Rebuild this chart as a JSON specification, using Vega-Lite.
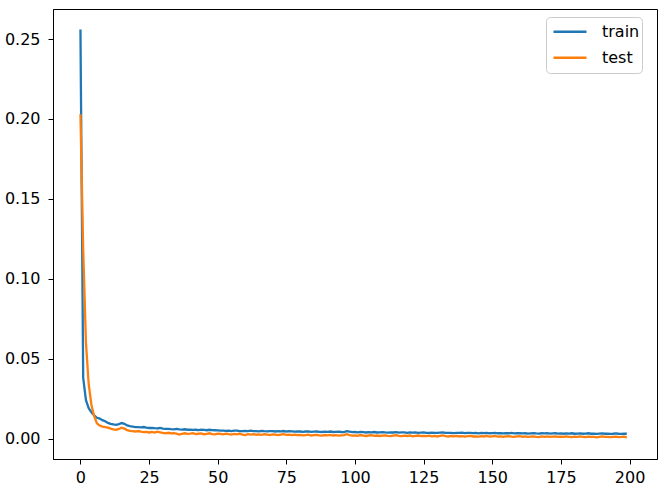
{
  "$schema": "https://vega.github.io/schema/vega-lite/v6.json",
  "width": 604,
  "height": 450,
  "autosize": {"type": "none"},
  "padding": {"left": 53, "top": 9, "right": 7, "bottom": 35},
  "background": "white",
  "config": {
    "font": "DejaVu Sans",
    "view": {"stroke": "black", "strokeWidth": 1},
    "axis": {
      "grid": false,
      "domainColor": "black",
      "tickColor": "black",
      "labelColor": "black",
      "labelFontSize": 16,
      "tickSize": 5,
      "labelPadding": 5,
      "title": null
    },
    "axisY": {"labelPadding": 8},
    "legend": {
      "orient": "none",
      "legendX": 493,
      "legendY": 8,
      "strokeColor": "#cccccc",
      "fillColor": "white",
      "cornerRadius": 4,
      "padding": 2,
      "labelFontSize": 16,
      "labelColor": "black",
      "labelOffset": 14,
      "symbolOffset": 4,
      "symbolType": "stroke",
      "symbolStrokeWidth": 2.4,
      "symbolSize": 1089,
      "clipHeight": 25.5,
      "rowPadding": 0,
      "labelExpr": "datum.label + '  '",
      "title": null
    }
  },
  "data": {
    "values": [
      {"e":0,"train":0.256,"test":0.203},
      {"e":1,"train":0.038,"test":0.118},
      {"e":2,"train":0.024,"test":0.06},
      {"e":3,"train":0.019,"test":0.034},
      {"e":4,"train":0.0165,"test":0.021},
      {"e":5,"train":0.0145,"test":0.014},
      {"e":6,"train":0.013,"test":0.0095},
      {"e":7,"train":0.0125,"test":0.0082},
      {"e":8,"train":0.0115,"test":0.0075},
      {"e":9,"train":0.0108,"test":0.0072},
      {"e":10,"train":0.0098,"test":0.0068},
      {"e":11,"train":0.0092,"test":0.0062},
      {"e":12,"train":0.0088,"test":0.0058},
      {"e":13,"train":0.0086,"test":0.0055},
      {"e":14,"train":0.0090,"test":0.0060},
      {"e":15,"train":0.0097,"test":0.0068},
      {"e":16,"train":0.0092,"test":0.0062},
      {"e":17,"train":0.0082,"test":0.0052},
      {"e":18,"train":0.0078,"test":0.0048},
      {"e":19,"train":0.0075,"test":0.0046},
      {"e":20,"train":0.0072,"test":0.0044},
      {"e":21,"train":0.0071,"test":0.0047},
      {"e":22,"train":0.0070,"test":0.0043},
      {"e":23,"train":0.0072,"test":0.0040},
      {"e":24,"train":0.0068,"test":0.0042},
      {"e":25,"train":0.0066,"test":0.0038},
      {"e":26,"train":0.0067,"test":0.0041},
      {"e":27,"train":0.0065,"test":0.0037},
      {"e":28,"train":0.0064,"test":0.0043},
      {"e":29,"train":0.0066,"test":0.0039},
      {"e":30,"train":0.0062,"test":0.0035},
      {"e":31,"train":0.0060,"test":0.0033},
      {"e":32,"train":0.0061,"test":0.0036},
      {"e":33,"train":0.0059,"test":0.0032},
      {"e":34,"train":0.0058,"test":0.0034},
      {"e":35,"train":0.0060,"test":0.0031},
      {"e":36,"train":0.0057,"test":0.0025},
      {"e":37,"train":0.0056,"test":0.0030},
      {"e":38,"train":0.0058,"test":0.0033},
      {"e":39,"train":0.0055,"test":0.0029},
      {"e":40,"train":0.0056,"test":0.0031},
      {"e":41,"train":0.0054,"test":0.0034},
      {"e":42,"train":0.0055,"test":0.0028},
      {"e":43,"train":0.0053,"test":0.0030},
      {"e":44,"train":0.0056,"test":0.0032},
      {"e":45,"train":0.0054,"test":0.0027},
      {"e":46,"train":0.0052,"test":0.0029},
      {"e":47,"train":0.0055,"test":0.0033},
      {"e":48,"train":0.0053,"test":0.0028},
      {"e":49,"train":0.0052,"test":0.0026},
      {"e":50,"train":0.0051,"test":0.0031},
      {"e":51,"train":0.0049,"test":0.0029},
      {"e":52,"train":0.0050,"test":0.0026},
      {"e":53,"train":0.0048,"test":0.0030},
      {"e":54,"train":0.0050,"test":0.0027},
      {"e":55,"train":0.0047,"test":0.0025},
      {"e":56,"train":0.0049,"test":0.0029},
      {"e":57,"train":0.0050,"test":0.0026},
      {"e":58,"train":0.0047,"test":0.0030},
      {"e":59,"train":0.0046,"test":0.0024},
      {"e":60,"train":0.0048,"test":0.0022},
      {"e":61,"train":0.0047,"test":0.0027},
      {"e":62,"train":0.0049,"test":0.0025},
      {"e":63,"train":0.0046,"test":0.0028},
      {"e":64,"train":0.0047,"test":0.0024},
      {"e":65,"train":0.0045,"test":0.0026},
      {"e":66,"train":0.0048,"test":0.0023},
      {"e":67,"train":0.0046,"test":0.0027},
      {"e":68,"train":0.0045,"test":0.0025},
      {"e":69,"train":0.0047,"test":0.0022},
      {"e":70,"train":0.0046,"test":0.0026},
      {"e":71,"train":0.0044,"test":0.0024},
      {"e":72,"train":0.0046,"test":0.0021},
      {"e":73,"train":0.0045,"test":0.0025},
      {"e":74,"train":0.0047,"test":0.0027},
      {"e":75,"train":0.0044,"test":0.0023},
      {"e":76,"train":0.0046,"test":0.0025},
      {"e":77,"train":0.0045,"test":0.0022},
      {"e":78,"train":0.0043,"test":0.0024},
      {"e":79,"train":0.0045,"test":0.0021},
      {"e":80,"train":0.0044,"test":0.0023},
      {"e":81,"train":0.0042,"test":0.0020},
      {"e":82,"train":0.0044,"test":0.0022},
      {"e":83,"train":0.0045,"test":0.0024},
      {"e":84,"train":0.0042,"test":0.0019},
      {"e":85,"train":0.0043,"test":0.0021},
      {"e":86,"train":0.0044,"test":0.0023},
      {"e":87,"train":0.0042,"test":0.0020},
      {"e":88,"train":0.0041,"test":0.0018},
      {"e":89,"train":0.0043,"test":0.0022},
      {"e":90,"train":0.0042,"test":0.0020},
      {"e":91,"train":0.0044,"test":0.0023},
      {"e":92,"train":0.0041,"test":0.0019},
      {"e":93,"train":0.0042,"test":0.0021},
      {"e":94,"train":0.0043,"test":0.0018},
      {"e":95,"train":0.0041,"test":0.0020},
      {"e":96,"train":0.0040,"test":0.0022},
      {"e":97,"train":0.0046,"test":0.0027},
      {"e":98,"train":0.0043,"test":0.0021},
      {"e":99,"train":0.0040,"test":0.0018},
      {"e":100,"train":0.0041,"test":0.0020},
      {"e":101,"train":0.0039,"test":0.0017},
      {"e":102,"train":0.0041,"test":0.0022},
      {"e":103,"train":0.0040,"test":0.0019},
      {"e":104,"train":0.0038,"test":0.0016},
      {"e":105,"train":0.0040,"test":0.0019},
      {"e":106,"train":0.0039,"test":0.0021},
      {"e":107,"train":0.0041,"test":0.0017},
      {"e":108,"train":0.0038,"test":0.0019},
      {"e":109,"train":0.0039,"test":0.0016},
      {"e":110,"train":0.0040,"test":0.0018},
      {"e":111,"train":0.0038,"test":0.0020},
      {"e":112,"train":0.0037,"test":0.0017},
      {"e":113,"train":0.0039,"test":0.0015},
      {"e":114,"train":0.0038,"test":0.0018},
      {"e":115,"train":0.0040,"test":0.0021},
      {"e":116,"train":0.0037,"test":0.0017},
      {"e":117,"train":0.0038,"test":0.0015},
      {"e":118,"train":0.0039,"test":0.0018},
      {"e":119,"train":0.0036,"test":0.0016},
      {"e":120,"train":0.0038,"test":0.0019},
      {"e":121,"train":0.0037,"test":0.0014},
      {"e":122,"train":0.0039,"test":0.0017},
      {"e":123,"train":0.0036,"test":0.0019},
      {"e":124,"train":0.0037,"test":0.0015},
      {"e":125,"train":0.0038,"test":0.0017},
      {"e":126,"train":0.0036,"test":0.0015},
      {"e":127,"train":0.0035,"test":0.0018},
      {"e":128,"train":0.0037,"test":0.0014},
      {"e":129,"train":0.0036,"test":0.0016},
      {"e":130,"train":0.0035,"test":0.0013},
      {"e":131,"train":0.0037,"test":0.0016},
      {"e":132,"train":0.0039,"test":0.0020},
      {"e":133,"train":0.0036,"test":0.0015},
      {"e":134,"train":0.0035,"test":0.0013},
      {"e":135,"train":0.0036,"test":0.0016},
      {"e":136,"train":0.0034,"test":0.0014},
      {"e":137,"train":0.0036,"test":0.0017},
      {"e":138,"train":0.0035,"test":0.0013},
      {"e":139,"train":0.0037,"test":0.0015},
      {"e":140,"train":0.0034,"test":0.0012},
      {"e":141,"train":0.0035,"test":0.0015},
      {"e":142,"train":0.0036,"test":0.0017},
      {"e":143,"train":0.0034,"test":0.0013},
      {"e":144,"train":0.0035,"test":0.0014},
      {"e":145,"train":0.0033,"test":0.0012},
      {"e":146,"train":0.0035,"test":0.0015},
      {"e":147,"train":0.0034,"test":0.0013},
      {"e":148,"train":0.0036,"test":0.0016},
      {"e":149,"train":0.0033,"test":0.0012},
      {"e":150,"train":0.0034,"test":0.0014},
      {"e":151,"train":0.0035,"test":0.0016},
      {"e":152,"train":0.0033,"test":0.0012},
      {"e":153,"train":0.0034,"test":0.0014},
      {"e":154,"train":0.0032,"test":0.0011},
      {"e":155,"train":0.0034,"test":0.0013},
      {"e":156,"train":0.0033,"test":0.0015},
      {"e":157,"train":0.0035,"test":0.0012},
      {"e":158,"train":0.0032,"test":0.0010},
      {"e":159,"train":0.0033,"test":0.0013},
      {"e":160,"train":0.0034,"test":0.0015},
      {"e":161,"train":0.0032,"test":0.0011},
      {"e":162,"train":0.0033,"test":0.0013},
      {"e":163,"train":0.0031,"test":0.0010},
      {"e":164,"train":0.0033,"test":0.0012},
      {"e":165,"train":0.0034,"test":0.0014},
      {"e":166,"train":0.0032,"test":0.0011},
      {"e":167,"train":0.0031,"test":0.0009},
      {"e":168,"train":0.0033,"test":0.0013},
      {"e":169,"train":0.0032,"test":0.0011},
      {"e":170,"train":0.0034,"test":0.0014},
      {"e":171,"train":0.0031,"test":0.0010},
      {"e":172,"train":0.0032,"test":0.0012},
      {"e":173,"train":0.0033,"test":0.0013},
      {"e":174,"train":0.0031,"test":0.0010},
      {"e":175,"train":0.0032,"test":0.0012},
      {"e":176,"train":0.0030,"test":0.0010},
      {"e":177,"train":0.0032,"test":0.0013},
      {"e":178,"train":0.0031,"test":0.0011},
      {"e":179,"train":0.0033,"test":0.0009},
      {"e":180,"train":0.0030,"test":0.0012},
      {"e":181,"train":0.0031,"test":0.0010},
      {"e":182,"train":0.0032,"test":0.0013},
      {"e":183,"train":0.0030,"test":0.0011},
      {"e":184,"train":0.0031,"test":0.0009},
      {"e":185,"train":0.0033,"test":0.0012},
      {"e":186,"train":0.0030,"test":0.0010},
      {"e":187,"train":0.0031,"test":0.0011},
      {"e":188,"train":0.0029,"test":0.0008},
      {"e":189,"train":0.0031,"test":0.0011},
      {"e":190,"train":0.0032,"test":0.0013},
      {"e":191,"train":0.0030,"test":0.0010},
      {"e":192,"train":0.0031,"test":0.0011},
      {"e":193,"train":0.0029,"test":0.0009},
      {"e":194,"train":0.0030,"test":0.0011},
      {"e":195,"train":0.0032,"test":0.0012},
      {"e":196,"train":0.0030,"test":0.0009},
      {"e":197,"train":0.0029,"test":0.0010},
      {"e":198,"train":0.0031,"test":0.0012},
      {"e":199,"train":0.0030,"test":0.0008}
    ]
  },
  "transform": [{"fold": ["train", "test"], "as": ["series", "loss"]}],
  "mark": {"type": "line", "strokeWidth": 2.3, "clip": true},
  "encoding": {
    "x": {
      "field": "e",
      "type": "quantitative",
      "scale": {"domain": [-10, 210], "nice": false, "zero": false},
      "axis": {"values": [0, 25, 50, 75, 100, 125, 150, 175, 200]}
    },
    "y": {
      "field": "loss",
      "type": "quantitative",
      "scale": {"domain": [-0.0128, 0.2688], "nice": false, "zero": false},
      "axis": {"values": [0, 0.05, 0.1, 0.15, 0.2, 0.25], "format": ".2f"}
    },
    "color": {
      "field": "series",
      "type": "nominal",
      "scale": {"domain": ["train", "test"], "range": ["#1f77b4", "#ff7f0e"]}
    }
  }
}
